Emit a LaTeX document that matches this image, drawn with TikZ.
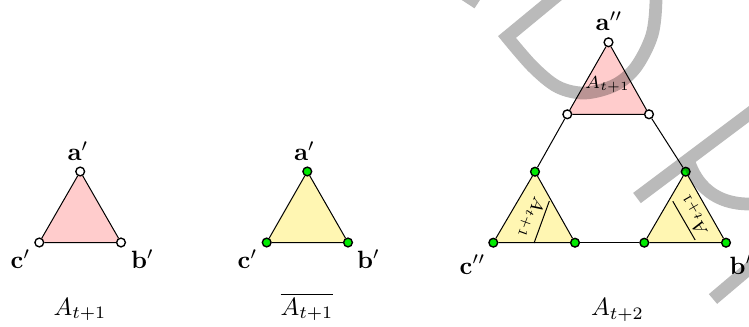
\documentclass[tikz,border=0pt]{standalone}
\usetikzlibrary{backgrounds}
\definecolor{pinkfill}{RGB}{255,204,204}
\definecolor{yelfill}{RGB}{255,246,178}
\definecolor{vgreen}{RGB}{0,235,0}
\begin{document}
\begin{tikzpicture}[x=0.4pt,y=-0.4pt,
  wnode/.style={circle,draw=black,fill=white,line width=0.55pt,inner sep=0pt,minimum size=3.5pt},
  gnode/.style={circle,draw=black,fill=vgreen,line width=0.55pt,inner sep=0pt,minimum size=3.5pt},
  tedge/.style={draw=black,line width=0.4pt},
  vlab/.style={inner sep=0pt,anchor=base},
  captxt/.style={inner sep=0pt,anchor=base},
  inlab/.style={inner sep=0pt,font=\scriptsize},
  wm/.style={line width=5.1pt,draw=black,draw opacity=0.27,line join=miter}]
\useasboundingbox (0,0) rectangle (749,327);

% ---- left: A_{t+1}
\node[wnode] (a1) at (80.2,171.5) {};
\node[wnode] (b1) at (121,242.5) {};
\node[wnode] (c1) at (39.3,242.5) {};
% ---- middle: overline A_{t+1}
\node[gnode] (a2) at (307.3,171.5) {};
\node[gnode] (b2) at (348,242.5) {};
\node[gnode] (c2) at (266.7,242.5) {};
% ---- right: A_{t+2}
\node[wnode] (ta) at (608.5,42.3) {};
\node[wnode] (tl) at (567.3,114.3) {};
\node[wnode] (tr) at (649,114.3) {};
\node[gnode] (lt) at (535,171.7) {};
\node[gnode] (ll) at (493.3,242.7) {};
\node[gnode] (lr) at (575,242.7) {};
\node[gnode] (rt) at (685.7,171.7) {};
\node[gnode] (rl) at (644.3,242.7) {};
\node[gnode] (rr) at (726,242.7) {};

\begin{pgfonlayer}{background}
  \fill[pinkfill] (a1.center) -- (b1.center) -- (c1.center) -- cycle;
  \fill[yelfill] (a2.center) -- (b2.center) -- (c2.center) -- cycle;
  \fill[pinkfill] (ta.center) -- (tl.center) -- (tr.center) -- cycle;
  \fill[yelfill] (lt.center) -- (ll.center) -- (lr.center) -- cycle;
  \fill[yelfill] (rt.center) -- (rl.center) -- (rr.center) -- cycle;
\end{pgfonlayer}

\draw[tedge] (a1) -- (b1) -- (c1) -- (a1);
\draw[tedge] (a2) -- (b2) -- (c2) -- (a2);
\draw[tedge] (ta) -- (tr) -- (tl) -- (ta);
\draw[tedge] (lt) -- (lr) -- (ll) -- (lt);
\draw[tedge] (rt) -- (rr) -- (rl) -- (rt);
\draw[tedge] (tl) -- (lt);
\draw[tedge] (tr) -- (rt);
\draw[tedge] (lr) -- (rl);

% vertex labels
\node[vlab] (la1) at (78,160.5) {$\mathbf{a}'$};
\node[vlab] (lc1) at (20.5,268.7) {$\mathbf{c}'$};
\node[vlab] (lb1) at (142.5,268.7) {$\mathbf{b}'$};
\node[vlab] (la2) at (304.5,160.5) {$\mathbf{a}'$};
\node[vlab] (lc2) at (247.5,268.7) {$\mathbf{c}'$};
\node[vlab] (lb2) at (368.5,268.7) {$\mathbf{b}'$};
\node[vlab] (la3) at (609,30.5) {$\mathbf{a}''$};
\node[vlab] (lc3) at (472.5,274) {$\mathbf{c}''$};
\node[vlab] (lb3) at (744,274) {$\mathbf{b}''$};

% inner labels
\node[inlab] (in1) at (607.5,84.5) {$A_{t+1}$};
\node[inlab,rotate=-110] (in2) at (533,218.8) {$\overline{A_{t+1}}$};
\node[inlab,rotate=120] (in3) at (692,216) {$\overline{A_{t+1}}$};

% captions
\node[captxt] (cap1) at (80,315) {$A_{t+1}$};
\node[captxt] (cap2) at (307,315) {$\overline{A_{t+1}}$};
\node[captxt] (cap3) at (617.5,315.5) {$A_{t+2}$};

% watermark
\draw[wm] (455,-12) -- (478,3)
  (564,-10) -- plot[smooth,tension=0.55] coordinates {(507,37) (533,67) (558,87) (585,93) (615,85) (636,67) (652,35) (656,0) (653,-15)}
  (637,198) -- (765,102)
  (688,159) .. controls (696,186) and (716,204) .. (749,204) -- (765,203)
  (713,299) -- (765,255);
\end{tikzpicture}
\end{document}
